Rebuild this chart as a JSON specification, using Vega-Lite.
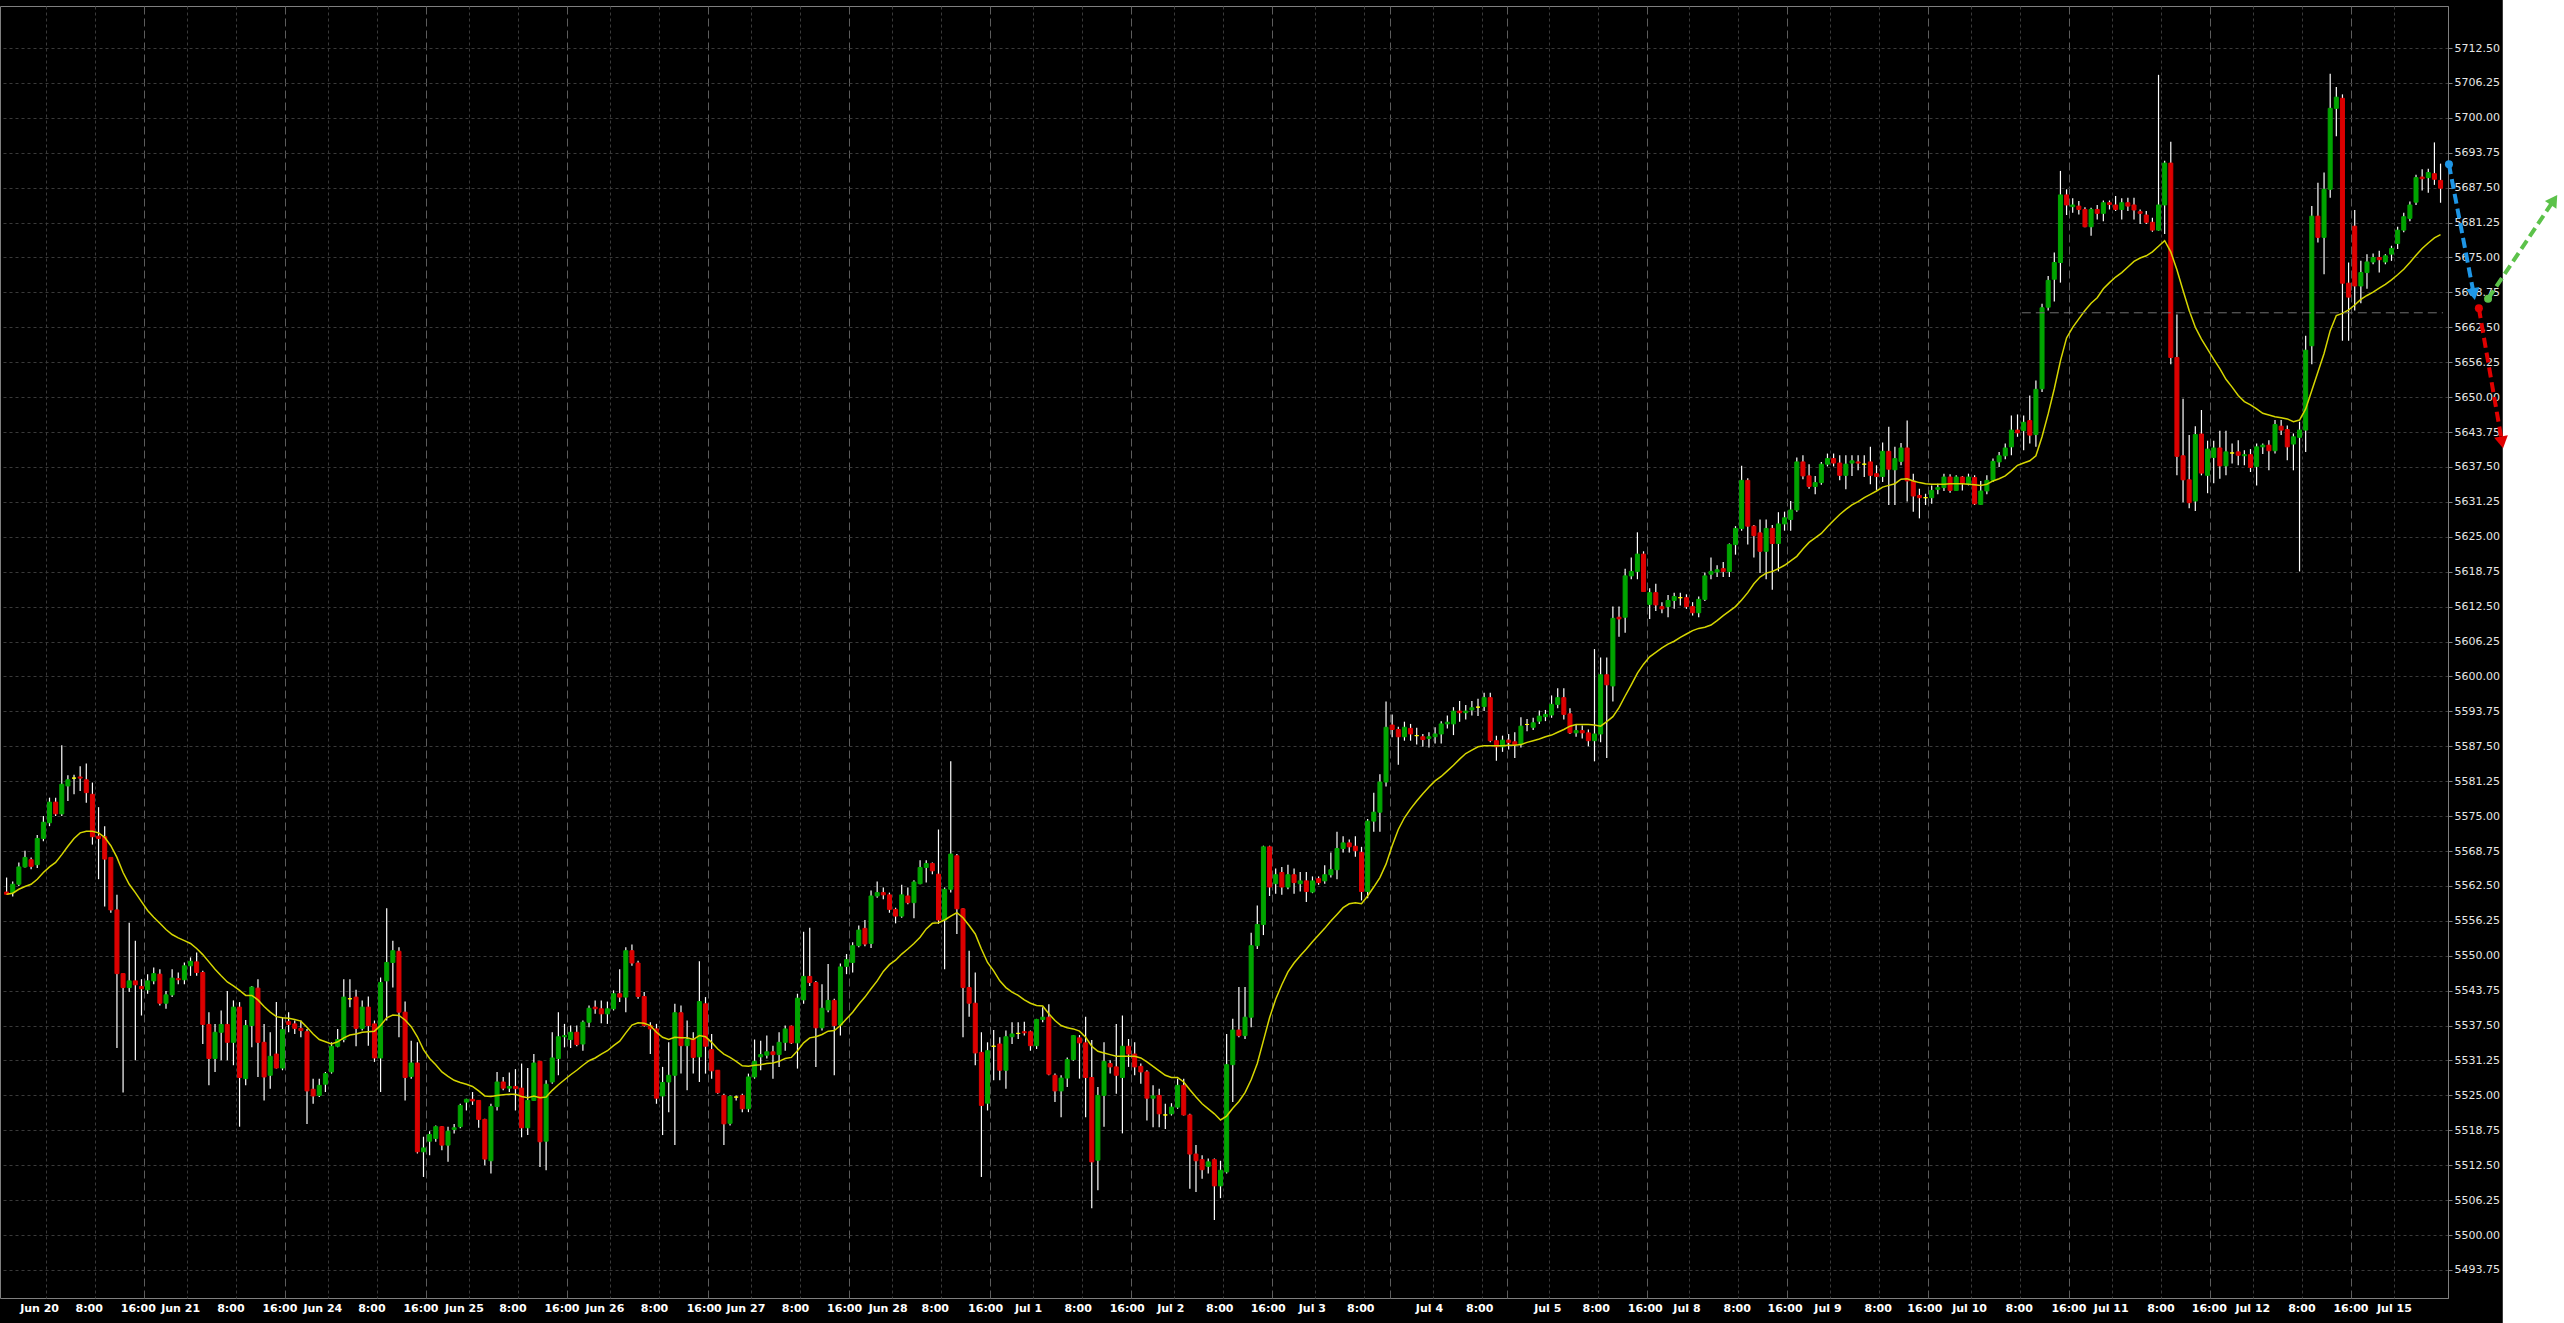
{
  "$schema": "https://vega.github.io/schema/vega-lite/v6.json",
  "width": 2448,
  "height": 1292,
  "autosize": {"type": "none"},
  "padding": {"left": 0, "top": 6, "right": 116, "bottom": 25},
  "background": "#000000",
  "config": {
    "view": {"stroke": "#7f7f7f", "strokeWidth": 1, "fill": "#000000"},
    "axis": {"labelFont": "DejaVu Sans", "labelFontSize": 11, "title": null}
  },
  "datasets": {
    "bars": [
{"k":0,"o":5561.4,"h":5564,"l":5560.9,"c":5561,"m":5561},
{"k":1,"o":5561.3,"h":5563.3,"l":5560.6,"c":5562.8,"m":5561.2},
{"k":2,"o":5562.8,"h":5566.7,"l":5562.5,"c":5565.9,"m":5561.9},
{"k":3,"o":5565.9,"h":5568.8,"l":5565.8,"c":5567.6,"m":5562.4},
{"k":4,"o":5567.2,"h":5567.6,"l":5565.5,"c":5566,"m":5562.8},
{"k":5,"o":5566.3,"h":5571.6,"l":5565.7,"c":5571,"m":5563.7},
{"k":6,"o":5571,"h":5575,"l":5570.5,"c":5573.9,"m":5564.9},
{"k":7,"o":5573.8,"h":5578.3,"l":5573.2,"c":5577.5,"m":5565.9},
{"k":8,"o":5577.5,"h":5578.3,"l":5575,"c":5575.4,"m":5566.7},
{"k":9,"o":5575.4,"h":5587.7,"l":5575,"c":5580.7,"m":5568.1},
{"k":10,"o":5580.4,"h":5582.3,"l":5577.7,"c":5581.5,"m":5569.6},
{"k":11,"o":5581.8,"h":5582.4,"l":5578.9,"c":5581.8,"m":5571},
{"k":12,"o":5582,"h":5583.9,"l":5579.5,"c":5581.8,"m":5572},
{"k":13,"o":5581.5,"h":5584.4,"l":5577.4,"c":5579.2,"m":5572.3},
{"k":14,"o":5578.9,"h":5581,"l":5569.9,"c":5571.3,"m":5572.3},
{"k":15,"o":5571.4,"h":5576.6,"l":5563.7,"c":5571,"m":5572},
{"k":16,"o":5571.3,"h":5573.2,"l":5558.8,"c":5567.3,"m":5571.2},
{"k":17,"o":5567.6,"h":5567.6,"l":5557.7,"c":5558.2,"m":5569.7},
{"k":18,"o":5558.2,"h":5560.9,"l":5533.5,"c":5546.8,"m":5567.6},
{"k":19,"o":5546.8,"h":5546.8,"l":5525.5,"c":5544.3,"m":5564.9},
{"k":20,"o":5544.3,"h":5555.9,"l":5543.5,"c":5545.5,"m":5562.8},
{"k":21,"o":5545.5,"h":5552.7,"l":5531.3,"c":5544.8,"m":5561.3},
{"k":22,"o":5544.5,"h":5545.8,"l":5539.3,"c":5544.1,"m":5559.7},
{"k":23,"o":5543.9,"h":5546.7,"l":5543.2,"c":5545.5,"m":5558.1},
{"k":24,"o":5545.5,"h":5547.9,"l":5544.9,"c":5546.8,"m":5556.9},
{"k":25,"o":5546.7,"h":5547.6,"l":5541.1,"c":5541.5,"m":5555.8},
{"k":26,"o":5541.5,"h":5543.7,"l":5540.5,"c":5543,"m":5554.7},
{"k":27,"o":5543,"h":5547.6,"l":5542.6,"c":5546,"m":5553.8},
{"k":28,"o":5545.9,"h":5547,"l":5544.9,"c":5545.7,"m":5553.2},
{"k":29,"o":5545.7,"h":5548.8,"l":5544.9,"c":5548.2,"m":5552.7},
{"k":30,"o":5548.2,"h":5549.7,"l":5546.4,"c":5549,"m":5552.2},
{"k":31,"o":5548.9,"h":5550.6,"l":5546.4,"c":5547,"m":5551.3},
{"k":32,"o":5547,"h":5547.3,"l":5534.2,"c":5537.7,"m":5550.2},
{"k":33,"o":5537.7,"h":5539.9,"l":5526.8,"c":5531.6,"m":5548.9},
{"k":34,"o":5531.6,"h":5537.8,"l":5529.2,"c":5536.3,"m":5547.6},
{"k":35,"o":5536.3,"h":5540.2,"l":5531.3,"c":5537.7,"m":5546.4},
{"k":36,"o":5537.7,"h":5543.7,"l":5531.3,"c":5534.5,"m":5545.3},
{"k":37,"o":5534.5,"h":5542,"l":5530.4,"c":5540.8,"m":5544.6},
{"k":38,"o":5540.8,"h":5541.7,"l":5519.4,"c":5528.2,"m":5543.8},
{"k":39,"o":5528,"h":5538.5,"l":5526.8,"c":5537.5,"m":5542.9},
{"k":40,"o":5537.5,"h":5544.6,"l":5533.6,"c":5544.4,"m":5542.9},
{"k":41,"o":5544.2,"h":5545.8,"l":5528.3,"c":5534.5,"m":5542.1},
{"k":42,"o":5534.5,"h":5537.8,"l":5524.1,"c":5528.3,"m":5540.9},
{"k":43,"o":5528.6,"h":5536.3,"l":5526.2,"c":5532,"m":5539.9},
{"k":44,"o":5532.4,"h":5541.7,"l":5529.8,"c":5529.9,"m":5539.1},
{"k":45,"o":5529.9,"h":5539,"l":5529.5,"c":5536.8,"m":5538.9},
{"k":46,"o":5538.2,"h":5539.9,"l":5536.3,"c":5537.7,"m":5538.8},
{"k":47,"o":5537.8,"h":5538.4,"l":5536,"c":5537,"m":5538.6},
{"k":48,"o":5537,"h":5538.4,"l":5535.4,"c":5536.6,"m":5538.3},
{"k":49,"o":5536.4,"h":5536.9,"l":5519.9,"c":5525.8,"m":5537.2},
{"k":50,"o":5526.1,"h":5528,"l":5523.5,"c":5524.9,"m":5536},
{"k":51,"o":5525,"h":5528,"l":5524.7,"c":5526.8,"m":5535},
{"k":52,"o":5527,"h":5529.2,"l":5525.6,"c":5528.9,"m":5534.6},
{"k":53,"o":5529.2,"h":5534.5,"l":5528.9,"c":5533.8,"m":5534.2},
{"k":54,"o":5533.8,"h":5536.9,"l":5533.6,"c":5535,"m":5534.6},
{"k":55,"o":5535,"h":5545.8,"l":5534.5,"c":5542.6,"m":5535.3},
{"k":56,"o":5542.3,"h":5545.8,"l":5540.8,"c":5542.3,"m":5535.8},
{"k":57,"o":5542.6,"h":5543.9,"l":5533.8,"c":5537,"m":5536},
{"k":58,"o":5537,"h":5542,"l":5536.6,"c":5540.8,"m":5536.3},
{"k":59,"o":5540.8,"h":5542.7,"l":5533.9,"c":5537.5,"m":5536.4},
{"k":60,"o":5537.8,"h":5538.4,"l":5531,"c":5531.7,"m":5536.5},
{"k":61,"o":5531.7,"h":5546.1,"l":5525.6,"c":5545.2,"m":5537.5},
{"k":62,"o":5545.5,"h":5558.5,"l":5538.4,"c":5548.8,"m":5538.9},
{"k":63,"o":5548.8,"h":5552.7,"l":5544.3,"c":5550.9,"m":5539.4},
{"k":64,"o":5550.8,"h":5551.5,"l":5535.4,"c":5539.9,"m":5539.3},
{"k":65,"o":5539.9,"h":5541.8,"l":5524.1,"c":5528.2,"m":5538.5},
{"k":66,"o":5528.4,"h":5534.8,"l":5528,"c":5530.8,"m":5537.3},
{"k":67,"o":5530.8,"h":5534.5,"l":5514.6,"c":5514.9,"m":5535.5},
{"k":68,"o":5514.9,"h":5517.6,"l":5510.4,"c":5515.6,"m":5533.2},
{"k":69,"o":5516.8,"h":5518.6,"l":5514.3,"c":5518,"m":5531.6},
{"k":70,"o":5517.3,"h":5519.6,"l":5516.7,"c":5519.4,"m":5530.5},
{"k":71,"o":5519.4,"h":5519.5,"l":5515.2,"c":5516.1,"m":5529.2},
{"k":72,"o":5516.1,"h":5519.4,"l":5513.1,"c":5518.6,"m":5528.4},
{"k":73,"o":5518.9,"h":5519.9,"l":5518.2,"c":5519.2,"m":5527.7},
{"k":74,"o":5519.4,"h":5523.5,"l":5519.1,"c":5523.2,"m":5527.3},
{"k":75,"o":5523.8,"h":5524.4,"l":5522.3,"c":5524.3,"m":5527},
{"k":76,"o":5524.3,"h":5525.6,"l":5523.3,"c":5524,"m":5526.6},
{"k":77,"o":5524.1,"h":5524.1,"l":5519.2,"c":5520.7,"m":5525.8},
{"k":78,"o":5520.7,"h":5520.8,"l":5512.5,"c":5513.6,"m":5524.9},
{"k":79,"o":5513.3,"h":5523.5,"l":5511,"c":5523,"m":5524.8},
{"k":80,"o":5523,"h":5529.2,"l":5522.3,"c":5527.4,"m":5525},
{"k":81,"o":5527.4,"h":5528.3,"l":5525.9,"c":5526.3,"m":5525.1},
{"k":82,"o":5526.3,"h":5529.1,"l":5525.6,"c":5526.6,"m":5525.2},
{"k":83,"o":5526.6,"h":5529.7,"l":5522.3,"c":5526.2,"m":5525.2},
{"k":84,"o":5526.3,"h":5530.7,"l":5517.5,"c":5519.2,"m":5524.8},
{"k":85,"o":5519.2,"h":5529.9,"l":5517.9,"c":5524.1,"m":5524.6},
{"k":86,"o":5524.1,"h":5532.4,"l":5524,"c":5530.8,"m":5524.9},
{"k":87,"o":5531.1,"h":5531.1,"l":5512.2,"c":5516.7,"m":5524.6},
{"k":88,"o":5516.8,"h":5527.7,"l":5511.6,"c":5527,"m":5524.7},
{"k":89,"o":5527.4,"h":5536.3,"l":5527.1,"c":5531.7,"m":5525.9},
{"k":90,"o":5531.6,"h":5539.9,"l":5528.6,"c":5535.5,"m":5526.9},
{"k":91,"o":5535.5,"h":5537.8,"l":5533.6,"c":5535.7,"m":5527.8},
{"k":92,"o":5535,"h":5537.5,"l":5533.5,"c":5536.3,"m":5528.7},
{"k":93,"o":5536.3,"h":5537.5,"l":5533.8,"c":5534.1,"m":5529.5},
{"k":94,"o":5534.2,"h":5538.4,"l":5533,"c":5538.1,"m":5530.4},
{"k":95,"o":5538.1,"h":5541.1,"l":5537.2,"c":5540.6,"m":5531.2},
{"k":96,"o":5540.8,"h":5542,"l":5539.6,"c":5540.5,"m":5531.7},
{"k":97,"o":5540.5,"h":5542,"l":5537.9,"c":5539.6,"m":5532.4},
{"k":98,"o":5539.6,"h":5541.8,"l":5537.8,"c":5540.5,"m":5533},
{"k":99,"o":5540.5,"h":5543.8,"l":5540.2,"c":5543.2,"m":5533.9},
{"k":100,"o":5543.2,"h":5547.6,"l":5541.7,"c":5542.6,"m":5534.7},
{"k":101,"o":5542.6,"h":5551.5,"l":5539.9,"c":5550.9,"m":5536.2},
{"k":102,"o":5550.9,"h":5552,"l":5548.2,"c":5548.7,"m":5537.6},
{"k":103,"o":5548.7,"h":5549.1,"l":5542.3,"c":5542.7,"m":5538},
{"k":104,"o":5542.7,"h":5543.5,"l":5537.3,"c":5537.5,"m":5537.9},
{"k":105,"o":5537.5,"h":5538.1,"l":5532.4,"c":5536.9,"m":5537.5},
{"k":106,"o":5536.9,"h":5537.8,"l":5523.5,"c":5524.5,"m":5536.3},
{"k":107,"o":5524.9,"h":5530.1,"l":5517.9,"c":5527.3,"m":5535.4},
{"k":108,"o":5527.4,"h":5534.5,"l":5522,"c":5528.6,"m":5535},
{"k":109,"o":5528.6,"h":5541.4,"l":5516.1,"c":5539.8,"m":5535.4},
{"k":110,"o":5539.8,"h":5541.1,"l":5528.9,"c":5533.9,"m":5535.3},
{"k":111,"o":5533.9,"h":5538.4,"l":5525.9,"c":5535,"m":5535.3},
{"k":112,"o":5535.1,"h":5536.3,"l":5528.9,"c":5531.8,"m":5535},
{"k":113,"o":5531.9,"h":5549,"l":5527.4,"c":5541.8,"m":5535.7},
{"k":114,"o":5541.4,"h":5542.6,"l":5528.9,"c":5533.8,"m":5535.5},
{"k":115,"o":5533.2,"h":5536,"l":5528,"c":5529.4,"m":5534.5},
{"k":116,"o":5529.5,"h":5529.5,"l":5525.3,"c":5525.5,"m":5533.3},
{"k":117,"o":5525,"h":5525.3,"l":5516.1,"c":5519.9,"m":5532.4},
{"k":118,"o":5520,"h":5525,"l":5519.6,"c":5524.8,"m":5531.8},
{"k":119,"o":5524.7,"h":5525,"l":5524.1,"c":5524.7,"m":5531.1},
{"k":120,"o":5525,"h":5525.3,"l":5522,"c":5522.6,"m":5530.3},
{"k":121,"o":5522.6,"h":5528.9,"l":5522,"c":5528.3,"m":5530.2},
{"k":122,"o":5528.3,"h":5535,"l":5528,"c":5531.1,"m":5530.4},
{"k":123,"o":5531.9,"h":5534.8,"l":5529.5,"c":5532.3,"m":5530.5},
{"k":124,"o":5532.2,"h":5535.7,"l":5531.6,"c":5532.8,"m":5530.7},
{"k":125,"o":5532.8,"h":5533.9,"l":5528,"c":5532.3,"m":5530.8},
{"k":126,"o":5532.3,"h":5536.3,"l":5530.1,"c":5534.5,"m":5531.1},
{"k":127,"o":5534.5,"h":5537.5,"l":5533,"c":5536.9,"m":5531.6},
{"k":128,"o":5537.4,"h":5537.5,"l":5534.2,"c":5534.4,"m":5531.8},
{"k":129,"o":5534.4,"h":5543.2,"l":5529.8,"c":5542.4,"m":5533},
{"k":130,"o":5542.1,"h":5554.3,"l":5541.4,"c":5546.3,"m":5534.4},
{"k":131,"o":5546.3,"h":5555,"l":5544.6,"c":5545.2,"m":5535.3},
{"k":132,"o":5545.2,"h":5545.5,"l":5530.1,"c":5537.1,"m":5535.5},
{"k":133,"o":5537.1,"h":5544.9,"l":5536.6,"c":5540.6,"m":5535.9},
{"k":134,"o":5540.3,"h":5548.5,"l":5539.9,"c":5542,"m":5536.5},
{"k":135,"o":5542,"h":5542.3,"l":5528.6,"c":5537.5,"m":5536.6},
{"k":136,"o":5537.6,"h":5548.6,"l":5535.7,"c":5548,"m":5537.5},
{"k":137,"o":5548.1,"h":5550.3,"l":5546.7,"c":5549.3,"m":5538.7},
{"k":138,"o":5548.8,"h":5552.4,"l":5547,"c":5551.8,"m":5539.9},
{"k":139,"o":5551.8,"h":5555.4,"l":5551.5,"c":5554.6,"m":5541.3},
{"k":140,"o":5554.9,"h":5556.4,"l":5551.7,"c":5552.1,"m":5542.6},
{"k":141,"o":5552.2,"h":5561.7,"l":5551.4,"c":5560.7,"m":5544.1},
{"k":142,"o":5560.7,"h":5563.3,"l":5560.4,"c":5561.3,"m":5545.5},
{"k":143,"o":5561.3,"h":5562.2,"l":5560.1,"c":5560.9,"m":5547.2},
{"k":144,"o":5560.9,"h":5561.3,"l":5557.7,"c":5558.3,"m":5548.4},
{"k":145,"o":5558.3,"h":5558.6,"l":5555.8,"c":5557.1,"m":5549.2},
{"k":146,"o":5557.1,"h":5562.7,"l":5556.8,"c":5560.9,"m":5550.3},
{"k":147,"o":5560.7,"h":5562.2,"l":5559.2,"c":5559.5,"m":5551.2},
{"k":148,"o":5559.5,"h":5563.5,"l":5556.7,"c":5563.2,"m":5552.2},
{"k":149,"o":5562.9,"h":5567.1,"l":5562.8,"c":5565.8,"m":5553.3},
{"k":150,"o":5565.8,"h":5567.1,"l":5563.1,"c":5566.5,"m":5554.8},
{"k":151,"o":5566.5,"h":5566.7,"l":5564.6,"c":5565.2,"m":5555.8},
{"k":152,"o":5564.6,"h":5572.6,"l":5555.7,"c":5556.4,"m":5555.9},
{"k":153,"o":5556.4,"h":5562.2,"l":5547.6,"c":5561.9,"m":5556.4},
{"k":154,"o":5561.9,"h":5584.8,"l":5561.3,"c":5568.2,"m":5557.1},
{"k":155,"o":5567.9,"h":5568.2,"l":5553.9,"c":5558.4,"m":5557.7},
{"k":156,"o":5558.4,"h":5558.5,"l":5535.4,"c":5544.3,"m":5556.8},
{"k":157,"o":5544.3,"h":5550.9,"l":5539.1,"c":5541.5,"m":5555.4},
{"k":158,"o":5541.5,"h":5547,"l":5530.4,"c":5532.6,"m":5553.9},
{"k":159,"o":5532.7,"h":5536.3,"l":5510.4,"c":5523.2,"m":5551.2},
{"k":160,"o":5523.6,"h":5534.5,"l":5522.3,"c":5533,"m":5548.8},
{"k":161,"o":5533.8,"h":5536.7,"l":5527.7,"c":5533.8,"m":5547.3},
{"k":162,"o":5534.2,"h":5535.4,"l":5527.7,"c":5529.5,"m":5545.5},
{"k":163,"o":5529.5,"h":5536.6,"l":5526.2,"c":5535.5,"m":5544.3},
{"k":164,"o":5535.5,"h":5538.1,"l":5534.2,"c":5536,"m":5543.5},
{"k":165,"o":5536.1,"h":5538.1,"l":5535.1,"c":5536.1,"m":5542.9},
{"k":166,"o":5536.4,"h":5538.2,"l":5535.7,"c":5536.2,"m":5542.1},
{"k":167,"o":5536.4,"h":5536.6,"l":5533,"c":5533.9,"m":5541.5},
{"k":168,"o":5533.9,"h":5538.7,"l":5533.3,"c":5538.6,"m":5541.1},
{"k":169,"o":5538.6,"h":5540.8,"l":5538.1,"c":5539,"m":5541},
{"k":170,"o":5539,"h":5541.3,"l":5528.6,"c":5528.8,"m":5539.6},
{"k":171,"o":5528.6,"h":5528.9,"l":5523.8,"c":5525.8,"m":5538.4},
{"k":172,"o":5525.8,"h":5528.6,"l":5521.1,"c":5528.1,"m":5537.5},
{"k":173,"o":5528.1,"h":5531.8,"l":5526.5,"c":5531.4,"m":5537.1},
{"k":174,"o":5531.4,"h":5535.8,"l":5531.2,"c":5535.7,"m":5536.9},
{"k":175,"o":5535.3,"h":5535.8,"l":5528,"c":5534.4,"m":5536.5},
{"k":176,"o":5534.4,"h":5539.1,"l":5521.1,"c":5528.2,"m":5535.4},
{"k":177,"o":5528.2,"h":5534.9,"l":5504.8,"c":5513.1,"m":5533.8},
{"k":178,"o":5513.4,"h":5526.5,"l":5508,"c":5525,"m":5532.9},
{"k":179,"o":5525,"h":5534.5,"l":5519.4,"c":5531.1,"m":5532.6},
{"k":180,"o":5530.7,"h":5531.3,"l":5528.9,"c":5530.1,"m":5532.3},
{"k":181,"o":5530.1,"h":5537.8,"l":5525.3,"c":5528.6,"m":5532},
{"k":182,"o":5528.2,"h":5539.3,"l":5518.2,"c":5533.8,"m":5532},
{"k":183,"o":5533.8,"h":5535.1,"l":5530.1,"c":5532.4,"m":5532},
{"k":184,"o":5532.4,"h":5534.5,"l":5528.6,"c":5530.1,"m":5532},
{"k":185,"o":5530.2,"h":5530.7,"l":5527.1,"c":5529.2,"m":5531.7},
{"k":186,"o":5529.2,"h":5529.5,"l":5520.5,"c":5524.5,"m":5531},
{"k":187,"o":5524.5,"h":5526.8,"l":5519.3,"c":5524.9,"m":5530.2},
{"k":188,"o":5525,"h":5526.2,"l":5519.3,"c":5521.7,"m":5529.4},
{"k":189,"o":5521.5,"h":5523.5,"l":5519,"c":5521.5,"m":5528.6},
{"k":190,"o":5521.7,"h":5523.6,"l":5521.4,"c":5522.9,"m":5528.2},
{"k":191,"o":5522.9,"h":5528,"l":5522.6,"c":5526.8,"m":5528.2},
{"k":192,"o":5526.8,"h":5528,"l":5521.4,"c":5521.5,"m":5527.4},
{"k":193,"o":5521.5,"h":5521.7,"l":5508.3,"c":5514.5,"m":5526},
{"k":194,"o":5514.5,"h":5516.1,"l":5507.7,"c":5513.3,"m":5524.7},
{"k":195,"o":5513.5,"h":5514.3,"l":5510.1,"c":5511.7,"m":5523.5},
{"k":196,"o":5512.3,"h":5513.7,"l":5511,"c":5513.1,"m":5522.6},
{"k":197,"o":5513.5,"h":5513.7,"l":5502.7,"c":5508.8,"m":5521.7},
{"k":198,"o":5508.8,"h":5513.3,"l":5506.6,"c":5511.6,"m":5520.6},
{"k":199,"o":5511.3,"h":5536,"l":5511,"c":5530.5,"m":5521.3},
{"k":200,"o":5530.5,"h":5538.7,"l":5523.8,"c":5536.7,"m":5522.7},
{"k":201,"o":5536.7,"h":5544.4,"l":5535.4,"c":5535.7,"m":5523.9},
{"k":202,"o":5535.7,"h":5544.4,"l":5535.1,"c":5539,"m":5525.5},
{"k":203,"o":5539,"h":5554.1,"l":5537.2,"c":5551.8,"m":5527.8},
{"k":204,"o":5551.8,"h":5559,"l":5551.2,"c":5555.6,"m":5530.7},
{"k":205,"o":5555.6,"h":5569.7,"l":5553.7,"c":5569.5,"m":5534.8},
{"k":206,"o":5569.5,"h":5569.7,"l":5560.7,"c":5562.3,"m":5538.9},
{"k":207,"o":5562.9,"h":5565.6,"l":5561.1,"c":5564.5,"m":5542.2},
{"k":208,"o":5564.9,"h":5565.9,"l":5560.9,"c":5562.3,"m":5544.8},
{"k":209,"o":5562.3,"h":5566.3,"l":5561.9,"c":5564.5,"m":5547.1},
{"k":210,"o":5564.5,"h":5565.6,"l":5561.1,"c":5563.1,"m":5548.7},
{"k":211,"o":5562.9,"h":5565,"l":5561.5,"c":5563.4,"m":5550},
{"k":212,"o":5563.4,"h":5565,"l":5559.6,"c":5561.5,"m":5551.2},
{"k":213,"o":5561.4,"h":5564.2,"l":5561.2,"c":5563.4,"m":5552.5},
{"k":214,"o":5563.8,"h":5564.2,"l":5562.7,"c":5563.1,"m":5553.7},
{"k":215,"o":5563.4,"h":5566.2,"l":5562.9,"c":5564.5,"m":5554.9},
{"k":216,"o":5564.5,"h":5568.5,"l":5564,"c":5565.4,"m":5556.2},
{"k":217,"o":5565.4,"h":5572.2,"l":5563.7,"c":5569.2,"m":5557.4},
{"k":218,"o":5569.2,"h":5571.4,"l":5568.5,"c":5570.2,"m":5558.6},
{"k":219,"o":5570.2,"h":5570.8,"l":5568.5,"c":5569.5,"m":5559.3},
{"k":220,"o":5569.6,"h":5571.4,"l":5567.7,"c":5568.8,"m":5559.5},
{"k":221,"o":5568.5,"h":5569.5,"l":5559.9,"c":5561.5,"m":5559.3},
{"k":222,"o":5561.5,"h":5574.5,"l":5560.3,"c":5574.1,"m":5560.7},
{"k":223,"o":5574.1,"h":5579.2,"l":5572.2,"c":5575.7,"m":5562.3},
{"k":224,"o":5575.7,"h":5582.5,"l":5572.2,"c":5581.1,"m":5564},
{"k":225,"o":5581.1,"h":5595.5,"l":5580.3,"c":5590.9,"m":5566.4},
{"k":226,"o":5591.3,"h":5593.2,"l":5589.1,"c":5590.5,"m":5569.7},
{"k":227,"o":5590.5,"h":5591,"l":5584.2,"c":5589.2,"m":5572.6},
{"k":228,"o":5589.2,"h":5591.9,"l":5588.5,"c":5590.9,"m":5574.7},
{"k":229,"o":5590.7,"h":5591.5,"l":5588.5,"c":5589.7,"m":5576.3},
{"k":230,"o":5589.4,"h":5590.8,"l":5587.8,"c":5589.4,"m":5577.7},
{"k":231,"o":5589.2,"h":5589.7,"l":5587.4,"c":5588.7,"m":5579},
{"k":232,"o":5588.9,"h":5590,"l":5587.3,"c":5589.2,"m":5580.2},
{"k":233,"o":5589.2,"h":5590.9,"l":5588,"c":5589.7,"m":5581.3},
{"k":234,"o":5589.7,"h":5592,"l":5588,"c":5591.5,"m":5582.1},
{"k":235,"o":5591.5,"h":5593,"l":5590.7,"c":5591.8,"m":5583.1},
{"k":236,"o":5591.5,"h":5594.5,"l":5589.5,"c":5593.8,"m":5584.1},
{"k":237,"o":5593.8,"h":5595.6,"l":5591.9,"c":5593.5,"m":5585.2},
{"k":238,"o":5593.5,"h":5594.9,"l":5592.3,"c":5593.8,"m":5586.2},
{"k":239,"o":5594,"h":5595.6,"l":5593,"c":5594.4,"m":5586.8},
{"k":240,"o":5594.5,"h":5596,"l":5592.9,"c":5594.5,"m":5587.4},
{"k":241,"o":5594.6,"h":5597.1,"l":5593.8,"c":5596.2,"m":5587.6},
{"k":242,"o":5596.2,"h":5597.1,"l":5588.2,"c":5588.5,"m":5587.6},
{"k":243,"o":5588.5,"h":5589.4,"l":5584.9,"c":5587.4,"m":5587.6},
{"k":244,"o":5587.4,"h":5589.4,"l":5586.5,"c":5588.6,"m":5587.6},
{"k":245,"o":5588.6,"h":5589.7,"l":5586.9,"c":5588.2,"m":5587.7},
{"k":246,"o":5588.3,"h":5590,"l":5585.4,"c":5587.8,"m":5587.7},
{"k":247,"o":5587.8,"h":5592.7,"l":5587.3,"c":5591.1,"m":5587.8},
{"k":248,"o":5591.4,"h":5592.4,"l":5590.2,"c":5591.4,"m":5588.2},
{"k":249,"o":5590.9,"h":5592.6,"l":5590.4,"c":5591.7,"m":5588.5},
{"k":250,"o":5592,"h":5593.9,"l":5591.5,"c":5592.9,"m":5588.8},
{"k":251,"o":5592.8,"h":5594,"l":5592,"c":5593.2,"m":5589.2},
{"k":252,"o":5593.1,"h":5596.6,"l":5592.6,"c":5595,"m":5589.5},
{"k":253,"o":5595,"h":5597.9,"l":5594.3,"c":5596.2,"m":5590},
{"k":254,"o":5596.2,"h":5597.9,"l":5592.3,"c":5593.2,"m":5590.5},
{"k":255,"o":5593.3,"h":5594.3,"l":5589.7,"c":5589.9,"m":5591.1},
{"k":256,"o":5589.9,"h":5591.4,"l":5589.2,"c":5590.3,"m":5591.4},
{"k":257,"o":5590.3,"h":5591.2,"l":5588.9,"c":5589.9,"m":5591.4},
{"k":258,"o":5589.9,"h":5590.5,"l":5587.5,"c":5588.5,"m":5591.4},
{"k":259,"o":5588.5,"h":5604.9,"l":5584.8,"c":5589.7,"m":5591.3},
{"k":260,"o":5589.7,"h":5603.4,"l":5588.2,"c":5600.3,"m":5591.1},
{"k":261,"o":5600.3,"h":5603.4,"l":5585.4,"c":5598.5,"m":5591.9},
{"k":262,"o":5598.3,"h":5612.5,"l":5595.5,"c":5610.4,"m":5592.8},
{"k":263,"o":5610.6,"h":5612.5,"l":5607.1,"c":5610.3,"m":5594.4},
{"k":264,"o":5610.6,"h":5619.3,"l":5607.8,"c":5618,"m":5596.5},
{"k":265,"o":5618,"h":5621.3,"l":5617.4,"c":5618.8,"m":5598.5},
{"k":266,"o":5618.8,"h":5625.8,"l":5617.4,"c":5621.9,"m":5600.6},
{"k":267,"o":5621.9,"h":5622.4,"l":5615.2,"c":5615.2,"m":5602.2},
{"k":268,"o":5612.9,"h":5615.8,"l":5610.3,"c":5615,"m":5603.5},
{"k":269,"o":5615,"h":5616.6,"l":5611.7,"c":5612.8,"m":5604.3},
{"k":270,"o":5612.5,"h":5613.3,"l":5611.3,"c":5612.1,"m":5605.1},
{"k":271,"o":5612.5,"h":5614.6,"l":5610.6,"c":5613.6,"m":5605.8},
{"k":272,"o":5613.6,"h":5615,"l":5612.1,"c":5614.3,"m":5606.3},
{"k":273,"o":5614.1,"h":5615,"l":5612.7,"c":5614.1,"m":5607},
{"k":274,"o":5614.1,"h":5614.7,"l":5612.1,"c":5612.5,"m":5607.6},
{"k":275,"o":5612.5,"h":5613.3,"l":5610.9,"c":5611.4,"m":5608.2},
{"k":276,"o":5611.4,"h":5614.3,"l":5610.6,"c":5613.8,"m":5608.6},
{"k":277,"o":5613.8,"h":5618.6,"l":5613.5,"c":5618,"m":5608.8},
{"k":278,"o":5618.3,"h":5621.3,"l":5617.4,"c":5618.8,"m":5609.2},
{"k":279,"o":5618.7,"h":5619.9,"l":5617.8,"c":5619.1,"m":5610},
{"k":280,"o":5619.3,"h":5620.5,"l":5617.8,"c":5618.8,"m":5610.9},
{"k":281,"o":5618.8,"h":5623.8,"l":5617.8,"c":5623.6,"m":5611.7},
{"k":282,"o":5623.6,"h":5626.9,"l":5621.8,"c":5626.5,"m":5612.5},
{"k":283,"o":5626.5,"h":5637.7,"l":5626.1,"c":5635.1,"m":5613.7},
{"k":284,"o":5635.1,"h":5635.5,"l":5623.6,"c":5626.9,"m":5615},
{"k":285,"o":5626.9,"h":5627.1,"l":5621.3,"c":5625.2,"m":5616.6},
{"k":286,"o":5625.7,"h":5628.1,"l":5618.5,"c":5622.4,"m":5617.8},
{"k":287,"o":5622.4,"h":5628.1,"l":5617.4,"c":5626.5,"m":5618.5},
{"k":288,"o":5626.5,"h":5627.1,"l":5615.5,"c":5623.8,"m":5618.8},
{"k":289,"o":5623.8,"h":5629.4,"l":5618.8,"c":5627.3,"m":5619.3},
{"k":290,"o":5627.3,"h":5629.5,"l":5626.1,"c":5628.4,"m":5619.9},
{"k":291,"o":5628.1,"h":5631.4,"l":5626.1,"c":5629.8,"m":5620.7},
{"k":292,"o":5629.8,"h":5639.2,"l":5629.5,"c":5638.4,"m":5621.5},
{"k":293,"o":5638.4,"h":5639.6,"l":5635.3,"c":5635.9,"m":5622.8},
{"k":294,"o":5635.9,"h":5638,"l":5633.6,"c":5634,"m":5624},
{"k":295,"o":5634,"h":5635.9,"l":5632.6,"c":5634.7,"m":5624.8},
{"k":296,"o":5634.7,"h":5638.4,"l":5634.3,"c":5638,"m":5625.6},
{"k":297,"o":5638,"h":5639.9,"l":5637.6,"c":5639,"m":5626.8},
{"k":298,"o":5639,"h":5639.9,"l":5637.6,"c":5638.2,"m":5627.9},
{"k":299,"o":5638.2,"h":5639.6,"l":5635.1,"c":5636,"m":5629},
{"k":300,"o":5636,"h":5639.6,"l":5633.5,"c":5638,"m":5629.9},
{"k":301,"o":5638.2,"h":5639.6,"l":5635.9,"c":5638.6,"m":5630.7},
{"k":302,"o":5638.4,"h":5639.6,"l":5636.9,"c":5638.2,"m":5631.3},
{"k":303,"o":5638,"h":5639.6,"l":5635.7,"c":5638,"m":5632},
{"k":304,"o":5638.4,"h":5641.1,"l":5634.4,"c":5636,"m":5632.6},
{"k":305,"o":5636.3,"h":5637.8,"l":5633.4,"c":5635.8,"m":5633.2},
{"k":306,"o":5635.8,"h":5641.9,"l":5634.8,"c":5640.3,"m":5633.9},
{"k":307,"o":5640.3,"h":5644.7,"l":5630.7,"c":5637.1,"m":5634.2},
{"k":308,"o":5637,"h":5641.1,"l":5630.7,"c":5639,"m":5634.5},
{"k":309,"o":5638.5,"h":5641.8,"l":5637.8,"c":5640.9,"m":5635.3},
{"k":310,"o":5640.9,"h":5645.8,"l":5631.3,"c":5635,"m":5635.4},
{"k":311,"o":5635,"h":5636.3,"l":5629.5,"c":5632.3,"m":5635},
{"k":312,"o":5632.4,"h":5633.6,"l":5628.3,"c":5632,"m":5634.7},
{"k":313,"o":5632,"h":5632.7,"l":5630.7,"c":5632,"m":5634.5},
{"k":314,"o":5632,"h":5634.2,"l":5630.9,"c":5633.3,"m":5634.4},
{"k":315,"o":5633.5,"h":5634.5,"l":5632.6,"c":5633.8,"m":5634.4},
{"k":316,"o":5633.8,"h":5636.3,"l":5633.2,"c":5635.7,"m":5634.4},
{"k":317,"o":5635.7,"h":5636.2,"l":5632.9,"c":5633.3,"m":5634.5},
{"k":318,"o":5633.3,"h":5636,"l":5633.3,"c":5635.7,"m":5634.5},
{"k":319,"o":5635.7,"h":5635.9,"l":5633.3,"c":5634.5,"m":5634.5},
{"k":320,"o":5634.5,"h":5636.3,"l":5634.2,"c":5635.7,"m":5634.4},
{"k":321,"o":5635.6,"h":5636,"l":5630.7,"c":5630.9,"m":5634.3},
{"k":322,"o":5630.8,"h":5635,"l":5630.7,"c":5633.2,"m":5634.2},
{"k":323,"o":5633.2,"h":5636,"l":5632.6,"c":5635.1,"m":5634.4},
{"k":324,"o":5635.1,"h":5639,"l":5634.8,"c":5638.5,"m":5635},
{"k":325,"o":5638.4,"h":5640.2,"l":5637.5,"c":5639.5,"m":5635.4},
{"k":326,"o":5639.5,"h":5641.7,"l":5638.9,"c":5640.9,"m":5635.9},
{"k":327,"o":5641.1,"h":5646.7,"l":5639.6,"c":5644.1,"m":5636.8},
{"k":328,"o":5644.1,"h":5646.9,"l":5642.9,"c":5643.6,"m":5637.8},
{"k":329,"o":5644,"h":5646.7,"l":5640.5,"c":5645.5,"m":5638.2},
{"k":330,"o":5645.8,"h":5650.3,"l":5641.7,"c":5643.2,"m":5638.6},
{"k":331,"o":5643.3,"h":5653,"l":5641.1,"c":5651.4,"m":5639.5},
{"k":332,"o":5651.5,"h":5666.7,"l":5650.9,"c":5666,"m":5642.9},
{"k":333,"o":5666.1,"h":5671.7,"l":5665.5,"c":5670.9,"m":5647},
{"k":334,"o":5671.1,"h":5675.9,"l":5667.1,"c":5674.1,"m":5651.5},
{"k":335,"o":5674.1,"h":5690.5,"l":5670.5,"c":5686.2,"m":5656.5},
{"k":336,"o":5686.2,"h":5687.2,"l":5682.6,"c":5684.4,"m":5660.6},
{"k":337,"o":5684.1,"h":5685.6,"l":5683,"c":5684.4,"m":5662.5},
{"k":338,"o":5684.2,"h":5685.1,"l":5682.7,"c":5683.6,"m":5664},
{"k":339,"o":5683.6,"h":5684,"l":5680.4,"c":5680.5,"m":5665.5},
{"k":340,"o":5680.5,"h":5683.9,"l":5678.9,"c":5683.6,"m":5666.8},
{"k":341,"o":5683.6,"h":5684.4,"l":5681.8,"c":5682.9,"m":5667.8},
{"k":342,"o":5682.9,"h":5685.2,"l":5681.5,"c":5684.8,"m":5669.4},
{"k":343,"o":5684.8,"h":5685.2,"l":5683.6,"c":5684.5,"m":5670.5},
{"k":344,"o":5684.4,"h":5686,"l":5683.3,"c":5683.6,"m":5671.5},
{"k":345,"o":5683.6,"h":5685.6,"l":5681.8,"c":5684.8,"m":5672.3},
{"k":346,"o":5684.8,"h":5685.7,"l":5683.3,"c":5684.2,"m":5673.3},
{"k":347,"o":5684.4,"h":5685.7,"l":5681.8,"c":5683.5,"m":5674.3},
{"k":348,"o":5683.2,"h":5683.6,"l":5681,"c":5682.9,"m":5674.9},
{"k":349,"o":5682.6,"h":5683.3,"l":5681,"c":5681.3,"m":5675.3},
{"k":350,"o":5681.3,"h":5682.1,"l":5679.6,"c":5679.9,"m":5676},
{"k":351,"o":5679.9,"h":5707.7,"l":5679.8,"c":5684.4,"m":5677},
{"k":352,"o":5684.4,"h":5692.3,"l":5679.2,"c":5691.9,"m":5678},
{"k":353,"o":5691.9,"h":5695.7,"l":5655.9,"c":5657.1,"m":5676},
{"k":354,"o":5657.1,"h":5664.8,"l":5636,"c":5639.4,"m":5672.8},
{"k":355,"o":5639.5,"h":5649.7,"l":5631.2,"c":5635.2,"m":5669.1},
{"k":356,"o":5635.2,"h":5643.2,"l":5630.1,"c":5631.1,"m":5665.5},
{"k":357,"o":5631.4,"h":5644.8,"l":5629.6,"c":5643.3,"m":5662.5},
{"k":358,"o":5643.4,"h":5647.7,"l":5636,"c":5636.4,"m":5660.4},
{"k":359,"o":5636,"h":5642.2,"l":5632.8,"c":5640.7,"m":5658.6},
{"k":360,"o":5639.2,"h":5642.2,"l":5634.6,"c":5640.9,"m":5656.8},
{"k":361,"o":5640.9,"h":5644,"l":5635.4,"c":5637.7,"m":5655.1},
{"k":362,"o":5637.7,"h":5644,"l":5636,"c":5640.2,"m":5653.2},
{"k":363,"o":5640,"h":5641.7,"l":5638.1,"c":5640,"m":5651.8},
{"k":364,"o":5640.2,"h":5642.3,"l":5637.8,"c":5639.6,"m":5650.3},
{"k":365,"o":5639.5,"h":5640.5,"l":5637.8,"c":5639.7,"m":5649.2},
{"k":366,"o":5639.7,"h":5640.7,"l":5636.6,"c":5637.4,"m":5648.6},
{"k":367,"o":5637.6,"h":5641.7,"l":5634.2,"c":5641.1,"m":5647.9},
{"k":368,"o":5641.1,"h":5641.7,"l":5639.8,"c":5641.4,"m":5647.1},
{"k":369,"o":5641.4,"h":5642.3,"l":5636.9,"c":5640.4,"m":5646.8},
{"k":370,"o":5640.4,"h":5645.9,"l":5639.9,"c":5645.1,"m":5646.5},
{"k":371,"o":5644.8,"h":5645.9,"l":5643.2,"c":5644.1,"m":5646.3},
{"k":372,"o":5644.2,"h":5644.9,"l":5638.7,"c":5641.1,"m":5646.1},
{"k":373,"o":5641.6,"h":5643.5,"l":5636.9,"c":5642.9,"m":5645.6},
{"k":374,"o":5642.8,"h":5645.6,"l":5618.8,"c":5644.1,"m":5645.9},
{"k":375,"o":5644.1,"h":5661,"l":5640.2,"c":5658.4,"m":5647.9},
{"k":376,"o":5659.2,"h":5684.2,"l":5655.9,"c":5682.4,"m":5651.2},
{"k":377,"o":5682.4,"h":5688.4,"l":5677.7,"c":5678.6,"m":5654.5},
{"k":378,"o":5678.6,"h":5690.2,"l":5672,"c":5687.2,"m":5657.8},
{"k":379,"o":5687.2,"h":5707.9,"l":5685.7,"c":5701.7,"m":5661.9},
{"k":380,"o":5701.7,"h":5705.5,"l":5696.7,"c":5703.7,"m":5664.6},
{"k":381,"o":5703.5,"h":5704.2,"l":5660.1,"c":5670.4,"m":5665},
{"k":382,"o":5670.4,"h":5674.1,"l":5660.1,"c":5667.9,"m":5665.6},
{"k":383,"o":5680.6,"h":5683.5,"l":5665.5,"c":5669.9,"m":5666.5},
{"k":384,"o":5669.9,"h":5674.4,"l":5666.8,"c":5672.3,"m":5667.5},
{"k":385,"o":5672.3,"h":5675.6,"l":5669.4,"c":5674.2,"m":5668.2},
{"k":386,"o":5674.2,"h":5675.7,"l":5673.8,"c":5675,"m":5668.8},
{"k":387,"o":5675,"h":5676.2,"l":5672.3,"c":5674.6,"m":5669.5},
{"k":388,"o":5674.2,"h":5675.6,"l":5673.8,"c":5675.3,"m":5670.2},
{"k":389,"o":5675.6,"h":5677.1,"l":5674.4,"c":5676.6,"m":5671},
{"k":390,"o":5677.5,"h":5680.5,"l":5676.5,"c":5679.9,"m":5671.9},
{"k":391,"o":5679.9,"h":5683,"l":5679.5,"c":5682.3,"m":5672.9},
{"k":392,"o":5682,"h":5685,"l":5681.5,"c":5684.4,"m":5674.1},
{"k":393,"o":5684.9,"h":5689.8,"l":5684.4,"c":5689.3,"m":5675.4},
{"k":394,"o":5689.4,"h":5690.8,"l":5687,"c":5689.1,"m":5676.6},
{"k":395,"o":5689.3,"h":5690.9,"l":5686.6,"c":5690.2,"m":5677.6},
{"k":396,"o":5690,"h":5695.6,"l":5688,"c":5689,"m":5678.5},
{"k":397,"o":5688.8,"h":5691.8,"l":5684.8,"c":5687.4,"m":5679.1}
    ],
    "arrows": [
      {"a": "blue", "x": 398.37, "p": 5691.68, "x2": 402.42, "p2": 5668.44, "ang": 169.2},
      {"a": "red", "x": 403.25, "p": 5665.9, "x2": 407.03, "p2": 5641.9, "ang": 170.2},
      {"a": "green", "x": 404.75, "p": 5667.6, "x2": 415.5, "p2": 5685.3, "ang": 33.7}
    ]
  },
  "resolve": {"axis": {"x": "independent", "y": "independent"}},
  "layer": [
    {
      "data": {"values": [{"x": 407.15, "x2": 440, "y": 5460, "y2": 5740}]},
      "mark": {"type": "rect", "color": "#ffffff"},
      "encoding": {
        "x": {"field": "x", "type": "quantitative", "scale": {"domain": [-0.26, 397.4], "nice": false, "zero": false}, "axis": null},
        "x2": {"field": "x2"},
        "y": {"field": "y", "type": "quantitative", "scale": {"domain": [5488.73, 5720.02], "nice": false, "zero": false}, "axis": null},
        "y2": {"field": "y2"}
      }
    },
    {
      "data": {"name": "bars"},
      "mark": {"type": "rule", "color": "#ffffff", "strokeWidth": 1.2},
      "encoding": {
        "x": {
          "field": "k", "type": "quantitative",
          "axis": {
            "orient": "bottom",
            "values": [6.42,14.42,22.42,29.42,37.42,45.42,52.45,60.45,68.45,75.45,83.45,91.45,98.45,106.45,114.45,121.42,129.42,137.42,144.4,152.4,160.4,167.35,175.35,183.35,190.4,198.4,206.4,213.4,221.4,225.6,232.6,240.6,244.8,251.5,259.5,267.5,274.45,282.45,290.45,297.4,305.4,313.4,320.4,328.4,336.4,343.4,351.4,359.4,366.4,374.4,382.4,389.4],
            "labels": false, "ticks": false, "domain": false,
            "grid": true,
            "gridColor": {"condition": {"test": "indexof([22.42,45.42,68.45,91.45,114.45,137.42,160.4,183.35,206.4,225.6,244.8,267.5,290.45,313.4,336.4,359.4,382.4], datum.value) >= 0", "value": "#5c5c5c"}, "value": "#3a3a3a"},
            "gridDash": {"condition": {"test": "indexof([22.42,45.42,68.45,91.45,114.45,137.42,160.4,183.35,206.4,225.6,244.8,267.5,290.45,313.4,336.4,359.4,382.4], datum.value) >= 0", "value": [8, 4]}, "value": [3, 3]},
            "gridWidth": 1
          }
        },
        "y": {
          "field": "l", "type": "quantitative",
          "axis": {
            "orient": "right",
            "values": [5493.75,5500,5506.25,5512.5,5518.75,5525,5531.25,5537.5,5543.75,5550,5556.25,5562.5,5568.75,5575,5581.25,5587.5,5593.75,5600,5606.25,5612.5,5618.75,5625,5631.25,5637.5,5643.75,5650,5656.25,5662.5,5668.75,5675,5681.25,5687.5,5693.75,5700,5706.25,5712.5],
            "format": ".2f",
            "grid": true, "gridColor": "#3a3a3a", "gridDash": [3, 3],
            "domain": true, "domainColor": "#7f7f7f",
            "ticks": true, "tickColor": "#7f7f7f", "tickSize": 4,
            "labelColor": "#e6e6e6", "labelPadding": 2, "labelOverlap": false, "labelBound": false
          }
        },
        "y2": {"field": "h"}
      }
    },
    {
      "data": {"name": "bars"},
      "mark": {"type": "bar", "width": 4, "strokeWidth": 1},
      "encoding": {
        "x": {
          "field": "k", "type": "quantitative",
          "axis": {
            "orient": "bottom",
            "values": [5.3,13.4,21.4,28.3,36.5,44.5,51.5,59.5,67.5,74.6,82.5,90.5,97.5,105.6,113.7,120.5,128.6,136.6,143.7,151.4,159.6,166.6,174.7,182.7,189.8,197.8,205.7,212.9,220.8,232,240.2,251.3,259.2,267.2,274,282.2,290,297,305.2,312.8,320.1,328.2,336.3,343.2,351.3,359.2,366.3,374.3,382.3,389.4],
            "labelExpr": "['Jun 20','8:00','16:00','Jun 21','8:00','16:00','Jun 24','8:00','16:00','Jun 25','8:00','16:00','Jun 26','8:00','16:00','Jun 27','8:00','16:00','Jun 28','8:00','16:00','Jul 1','8:00','16:00','Jul 2','8:00','16:00','Jul 3','8:00','Jul 4','8:00','Jul 5','8:00','16:00','Jul 8','8:00','16:00','Jul 9','8:00','16:00','Jul 10','8:00','16:00','Jul 11','8:00','16:00','Jul 12','8:00','16:00','Jul 15'][indexof([5.3,13.4,21.4,28.3,36.5,44.5,51.5,59.5,67.5,74.6,82.5,90.5,97.5,105.6,113.7,120.5,128.6,136.6,143.7,151.4,159.6,166.6,174.7,182.7,189.8,197.8,205.7,212.9,220.8,232,240.2,251.3,259.2,267.2,274,282.2,290,297,305.2,312.8,320.1,328.2,336.3,343.2,351.3,359.2,366.3,374.3,382.3,389.4], datum.value)]",
            "grid": false, "ticks": false, "domain": false,
            "labelColor": "#ffffff", "labelPadding": 4, "labelAngle": 0,
            "labelOverlap": false, "labelFlush": false, "labelBound": false,
            "labelFontWeight": {"condition": {"test": "indexof(datum.label, ':') < 0", "value": "bold"}, "value": "normal"}
          }
        },
        "y": {"field": "o", "type": "quantitative", "axis": null},
        "y2": {"field": "c"},
        "fill": {"condition": [{"test": "datum.c > datum.o", "value": "#00a400"}, {"test": "datum.c < datum.o", "value": "#dc0000"}], "value": "#ffff00"},
        "stroke": {"condition": [{"test": "datum.c > datum.o", "value": "#00a400"}, {"test": "datum.c < datum.o", "value": "#dc0000"}], "value": "#ffff00"}
      }
    },
    {
      "data": {"name": "bars"},
      "mark": {"type": "line", "color": "#d6d600", "strokeWidth": 1.5},
      "encoding": {
        "x": {"field": "k", "type": "quantitative", "axis": null},
        "y": {"field": "m", "type": "quantitative", "axis": null}
      }
    },
    {
      "data": {"values": [{"p": 5665.1, "x": 328.7, "x2": 397.4}]},
      "mark": {"type": "rule", "color": "#6e6e6e", "strokeWidth": 1, "strokeDash": [9, 5]},
      "encoding": {
        "x": {"field": "x", "type": "quantitative", "axis": null},
        "x2": {"field": "x2"},
        "y": {"field": "p", "type": "quantitative", "axis": null}
      }
    },
    {
      "data": {"name": "arrows"},
      "mark": {"type": "rule", "strokeWidth": 4, "strokeDash": [10, 5]},
      "encoding": {
        "x": {"field": "x", "type": "quantitative", "axis": null},
        "x2": {"field": "x2"},
        "y": {"field": "p", "type": "quantitative", "axis": null},
        "y2": {"field": "p2"},
        "color": {"field": "a", "type": "nominal", "scale": {"domain": ["blue", "red", "green"], "range": ["#1e96e6", "#e00000", "#5cc24a"]}, "legend": null}
      }
    },
    {
      "data": {"name": "arrows"},
      "mark": {"type": "point", "shape": "circle", "filled": true, "size": 64, "opacity": 1},
      "encoding": {
        "x": {"field": "x", "type": "quantitative", "axis": null},
        "y": {"field": "p", "type": "quantitative", "axis": null},
        "color": {"field": "a", "type": "nominal", "legend": null}
      }
    },
    {
      "data": {"name": "arrows"},
      "mark": {"type": "point", "shape": "triangle-up", "filled": true, "size": 190, "opacity": 1},
      "encoding": {
        "x": {"field": "x2", "type": "quantitative", "axis": null},
        "y": {"field": "p2", "type": "quantitative", "axis": null},
        "angle": {"field": "ang", "type": "quantitative", "scale": null},
        "color": {"field": "a", "type": "nominal", "legend": null}
      }
    }
  ]
}
